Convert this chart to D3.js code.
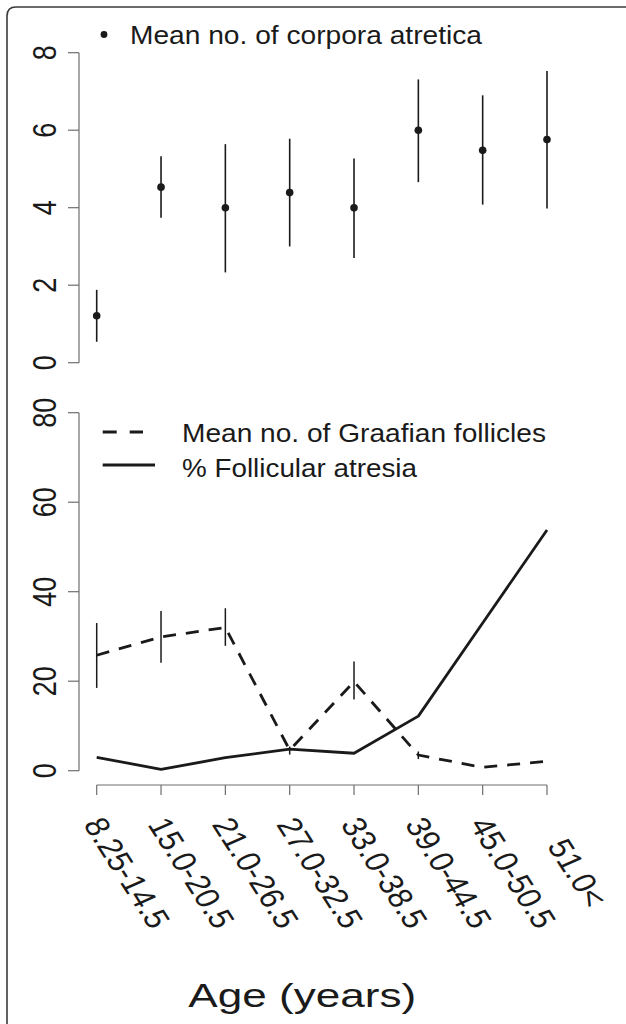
<!DOCTYPE html>
<html>
<head>
<meta charset="utf-8">
<script src="https://cdn.jsdelivr.net/npm/d3@7/dist/d3.min.js"></script>
<style>
  html, body { margin: 0; padding: 0; background: #fff; }
  svg { display: block; }
  text { font-family: "Liberation Sans", Arial, Helvetica, sans-serif; fill: #1a1a1a; }
</style>
</head>
<body>
<svg id="chart" width="626" height="1024"></svg>
<script>
// ---------- data ----------
const categories = ["8.25-14.5", "15.0-20.5", "21.0-26.5", "27.0-32.5", "33.0-38.5", "39.0-44.5", "45.0-50.5", "51.0<"];

const corporaMean = [1.21, 4.53, 4.0, 4.39, 4.0, 6.0, 5.48, 5.76];
const corporaLow  = [0.54, 3.74, 2.33, 3.0, 2.70, 4.66, 4.08, 3.98];
const corporaHigh = [1.88, 5.33, 5.64, 5.78, 5.27, 7.31, 6.90, 7.53];

const graafianMean = [25.8, 29.9, 32.0, 4.6, 19.9, 3.5, 0.75, 2.1];
const graafianLow  = [18.5, 24.1, 27.9, 3.6, 15.9, 2.6, null, null];
const graafianHigh = [33.0, 35.7, 36.3, 5.4, 24.4, 4.3, null, null];

const atresiaPct = [3.0, 0.3, 2.9, 4.8, 3.9, 12.2, 33.0, 53.8];

const topTicks = [0, 2, 4, 6, 8];
const bottomTicks = [0, 20, 40, 60, 80];

const legendTop = "Mean no. of corpora atretica";
const legendGraafian = "Mean no. of Graafian follicles";
const legendAtresia = "% Follicular atresia";
const xTitle = "Age (years)";

// ---------- layout ----------
const svg = d3.select("#chart");
const axisColor = "#6e6e6e";
const ink = "#1a1a1a";

// frame (left + top edge with rounded corner)
svg.append("path")
  .attr("d", "M7,1024 L7,16 Q7,7 16,7 L626,7")
  .attr("fill", "none").attr("stroke", "#3a3a3a").attr("stroke-width", 1.6);

const x = d3.scalePoint().domain(categories).range([96.7, 547]);
const yTop = d3.scaleLinear().domain([0, 8]).range([362.7, 52.7]);
const yBot = d3.scaleLinear().domain([0, 80]).range([770.7, 412.7]);

const axisX = 79;

function yAxis(scale, ticks) {
  const g = svg.append("g");
  g.append("line")
    .attr("x1", axisX).attr("x2", axisX)
    .attr("y1", scale(ticks[0])).attr("y2", scale(ticks[ticks.length - 1]))
    .attr("stroke", axisColor).attr("stroke-width", 1.2);
  g.selectAll("line.tk").data(ticks).join("line").attr("class", "tk")
    .attr("x1", axisX - 11).attr("x2", axisX)
    .attr("y1", d => scale(d)).attr("y2", d => scale(d))
    .attr("stroke", axisColor).attr("stroke-width", 1.2);
  g.selectAll("text").data(ticks).join("text")
    .attr("transform", d => `translate(45,${scale(d)}) scale(1.2,1) rotate(-90)`)
    .attr("text-anchor", "middle")
    .attr("dominant-baseline", "central")
    .attr("font-size", 27)
    .text(d => d);
}
yAxis(yTop, topTicks);
yAxis(yBot, bottomTicks);

// x axis (bottom)
const xAxisY = 785;
const xg = svg.append("g");
xg.append("line")
  .attr("x1", x(categories[0])).attr("x2", x(categories[categories.length - 1]))
  .attr("y1", xAxisY).attr("y2", xAxisY)
  .attr("stroke", axisColor).attr("stroke-width", 1.2);
xg.selectAll("line.tk").data(categories).join("line").attr("class", "tk")
  .attr("x1", d => x(d)).attr("x2", d => x(d))
  .attr("y1", xAxisY).attr("y2", xAxisY + 10)
  .attr("stroke", axisColor).attr("stroke-width", 1.2);
xg.selectAll("text").data(categories).join("text")
  .attr("transform", d => `translate(${x(d) + 30},873) scale(1.2,1) rotate(62)`)
  .attr("text-anchor", "middle")
  .attr("dominant-baseline", "central")
  .attr("font-size", 28.5)
  .text(d => d);

// x title
svg.append("text")
  .attr("x", 188.3).attr("y", 1006.7)
  .attr("font-size", 32.6)
  .attr("textLength", 228).attr("lengthAdjust", "spacingAndGlyphs")
  .text(xTitle);

// ---------- top panel: corpora atretica ----------
const idx = d3.range(categories.length);
svg.append("g").selectAll("line").data(idx).join("line")
  .attr("x1", i => x(categories[i])).attr("x2", i => x(categories[i]))
  .attr("y1", i => yTop(corporaLow[i])).attr("y2", i => yTop(corporaHigh[i]))
  .attr("stroke", ink).attr("stroke-width", 1.6);
svg.append("g").selectAll("circle").data(idx).join("circle")
  .attr("cx", i => x(categories[i])).attr("cy", i => yTop(corporaMean[i]))
  .attr("r", 3.8).attr("fill", ink);

// top legend
svg.append("circle").attr("cx", 104).attr("cy", 34.5).attr("r", 3.4).attr("fill", ink);
svg.append("text").attr("x", 130).attr("y", 44.3)
  .attr("font-size", 25.6)
  .attr("textLength", 352).attr("lengthAdjust", "spacingAndGlyphs")
  .text(legendTop);

// ---------- bottom panel ----------
const line = d3.line().x(d => x(d[0])).y(d => yBot(d[1]));

// graafian error bars
svg.append("g").selectAll("line")
  .data(idx.filter(i => graafianLow[i] != null))
  .join("line")
  .attr("x1", i => x(categories[i])).attr("x2", i => x(categories[i]))
  .attr("y1", i => yBot(graafianLow[i])).attr("y2", i => yBot(graafianHigh[i]))
  .attr("stroke", ink).attr("stroke-width", 1.5);

svg.append("path")
  .datum(categories.map((c, i) => [c, graafianMean[i]]))
  .attr("d", line)
  .attr("fill", "none").attr("stroke", ink).attr("stroke-width", 2.8)
  .attr("stroke-dasharray", "13,10");

svg.append("path")
  .datum(categories.map((c, i) => [c, atresiaPct[i]]))
  .attr("d", line)
  .attr("fill", "none").attr("stroke", ink).attr("stroke-width", 2.8)
  .attr("stroke-linejoin", "round");

// bottom legend
svg.append("line").attr("x1", 102.7).attr("x2", 143).attr("y1", 432).attr("y2", 432)
  .attr("stroke", ink).attr("stroke-width", 2.8).attr("stroke-dasharray", "14,13");
svg.append("line").attr("x1", 102.7).attr("x2", 155).attr("y1", 465).attr("y2", 465)
  .attr("stroke", ink).attr("stroke-width", 2.8);
svg.append("text").attr("x", 182).attr("y", 441.7)
  .attr("font-size", 25.6)
  .attr("textLength", 364).attr("lengthAdjust", "spacingAndGlyphs")
  .text(legendGraafian);
svg.append("text").attr("x", 182).attr("y", 476.7)
  .attr("font-size", 25.6)
  .attr("textLength", 235).attr("lengthAdjust", "spacingAndGlyphs")
  .text(legendAtresia);
</script>
</body>
</html>
